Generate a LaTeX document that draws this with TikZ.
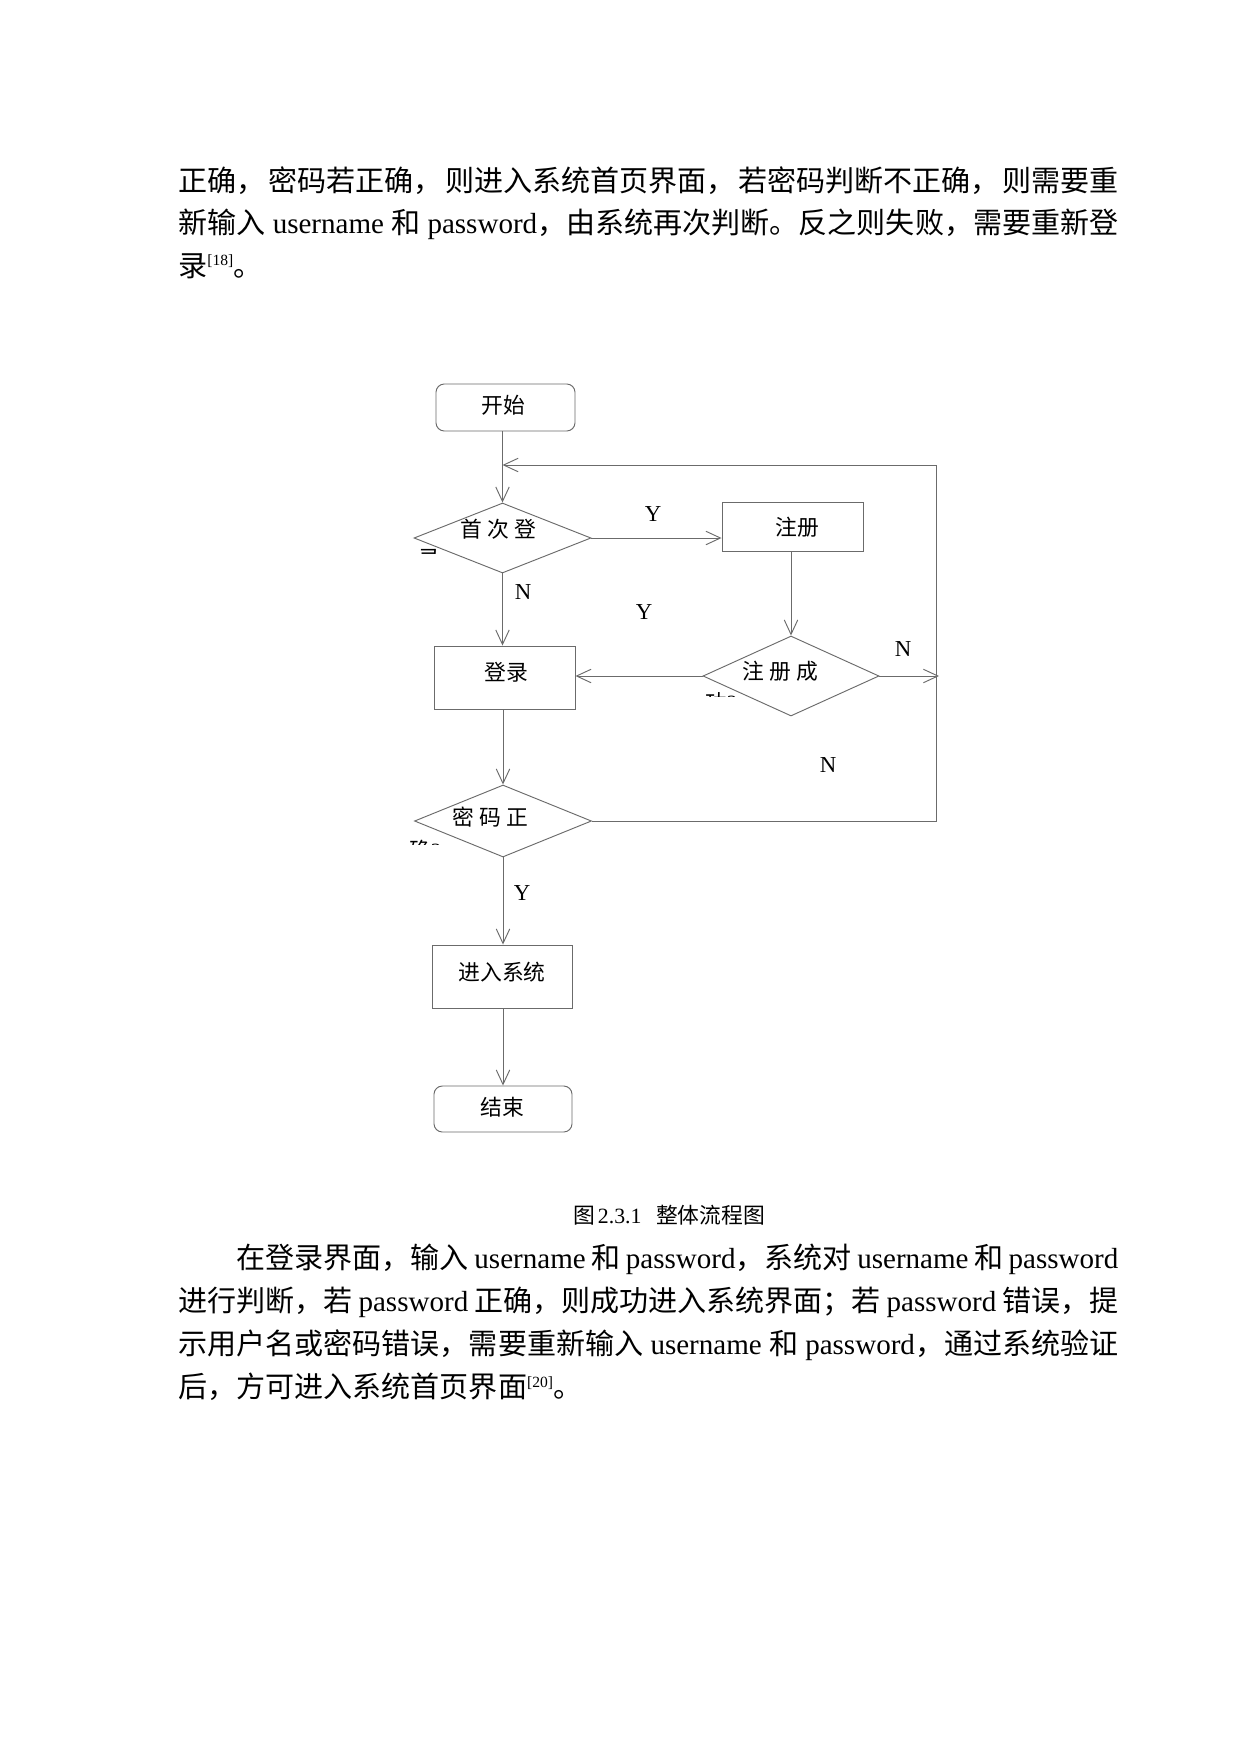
\documentclass[tikz,border=0pt]{standalone}
\usepackage{fontspec}
\setmainfont{Liberation Serif}
\newfontfamily\cjk{Noto Sans CJK SC}
\usetikzlibrary{arrows.meta,shapes.geometric}
\newcommand\bodyfont{\fontsize{14pt}{17pt}\selectfont}
\newcommand\chartfont{\fontsize{10.5pt}{12.6pt}\selectfont}
\newcommand\ynfont{\fontsize{11pt}{13pt}\selectfont}
\newcommand\supfont{\fontsize{7.5pt}{9pt}\selectfont}
\newcommand\refsup[1]{\raisebox{5pt}{\supfont[#1]}}
\def\pxu{0.48181pt}
\def\jg{\hskip 0pt plus 1pt}
\begin{document}
\begin{tikzpicture}[x=0.48181pt,y=-0.48181pt,
  ln/.style={draw=black!58, line width=0.45pt},
  arr/.style={ln, -{Straight Barb[length=7pt,width=6.5pt]}},
  box/.style={draw=black!58, line width=0.45pt, rectangle, inner sep=0pt},
  term/.style={box, rounded corners=4pt},
  dia/.style={draw=black!58, line width=0.45pt, diamond, inner sep=0pt},
  lbl/.style={font=\chartfont\cjk, inner sep=0pt},
  yn/.style={font=\ynfont, inner sep=0pt},
  bodyline/.style={anchor=base west, inner sep=0pt, font=\bodyfont},
  captxt/.style={anchor=base, inner sep=0pt, font=\chartfont},
]
\useasboundingbox (0,0) rectangle (1240,1754);
\fill[white] (0,0) rectangle (1240,1754);

% ---------- body text, top ----------
\node[bodyline] (top1) at (178,191) {\makebox[452.9pt][s]{\cjk 正确，\jg 密码若正确，\jg 则进入系统首页界面，\jg 若密码判断不正确，\jg 则需要重}};
\node[bodyline] (top2) at (178,233) {\makebox[452.9pt][s]{{\cjk 新输入} username {\cjk 和} password{\cjk ，由系统再次判断。反之则失败，需要重新登}}};
\node[bodyline] (top3) at (178,276) {{\cjk 录}\refsup{18}{\cjk 。}};

% ---------- flowchart ----------
\node[term, minimum width=139*\pxu, minimum height=47*\pxu] (start) at (505.5,407.5) {};
\node[lbl] (tstart) at (503,405) {开始};

\node[dia, minimum width=177*\pxu, minimum height=70*\pxu] (d1) at (502.5,538) {};
\node[lbl] (td1) at (498,529) {首\hspace{2.5pt}次\hspace{2.5pt}登};

\node[box, minimum width=141*\pxu, minimum height=49*\pxu] (reg) at (792.5,526.5) {};
\node[lbl] (treg) at (797,527) {注册};

\node[dia, minimum width=176*\pxu, minimum height=80*\pxu] (d2) at (791,676) {};
\node[lbl] (td2) at (780,671) {注\hspace{2.5pt}册\hspace{2.5pt}成};

\node[box, minimum width=141*\pxu, minimum height=63*\pxu] (login) at (504.5,677.5) {};
\node[lbl] (tlogin) at (506,672) {登录};

\node[dia, minimum width=177*\pxu, minimum height=72*\pxu] (d3) at (503,821) {};
\node[lbl] (td3) at (490,817) {密\hspace{2.5pt}码\hspace{2.5pt}正};

\node[box, minimum width=140*\pxu, minimum height=63*\pxu] (sys) at (502,976.5) {};
\node[lbl] (tsys) at (502,972) {进入系统};

\node[term, minimum width=138*\pxu, minimum height=46*\pxu] (stop) at (503,1109) {};
\node[lbl] (tstop) at (502,1107) {结束};

% clipped second lines of the decision texts
\begin{scope}
  \clip (412,548) rectangle (437,553.5);
  \node[lbl, anchor=north west] (frag1) at (418,549) {录{\rmfamily ?}};
\end{scope}
\begin{scope}
  \clip (700,690) rectangle (740,696);
  \node[lbl, anchor=north west] (frag2) at (705,692) {功{\rmfamily ?}};
\end{scope}
\begin{scope}
  \clip (404,838) rectangle (445,844);
  \node[lbl, anchor=north west] (frag3) at (409,840) {确{\rmfamily ?}};
\end{scope}

% coordinates for the loop back
\coordinate (fbCorner) at (936,465);
\coordinate (fbIn) at (502.5,465);
\coordinate (nEnd) at (939,676);

% connectors
\draw[arr] (start.south -| d1.north) -- (d1.north);
\draw[arr] (d1.east) -- (d1.east -| reg.west);
\draw[arr] (reg.south -| d2.north) -- (d2.north);
\draw[arr] (d2.west) -- (d2.west -| login.east);
\draw[arr] (d2.east) -- (nEnd);
\draw[arr] (d1.south) -- (d1.south |- login.north);
\draw[arr] (login.south -| d3.north) -- (d3.north);
\draw[arr] (d3.east) -| (fbCorner) -- (fbIn);
\draw[arr] (d3.south) -- (d3.south |- sys.north);
\draw[arr] (sys.south -| d3.south) -- (d3.south |- stop.north);

% Y / N labels
\node[yn] (y1) at (653,514) {Y};
\node[yn] (n1) at (523,592) {N};
\node[yn] (y2) at (644,612) {Y};
\node[yn] (n2) at (903,649) {N};
\node[yn] (n3) at (828,765) {N};
\node[yn] (y3) at (522,893) {Y};

% caption
\node[captxt] (cap) at (669,1223) {{\cjk 图}\hspace{1.5pt}2.3.1\hspace{7pt}{\cjk 整体流程图}};

% ---------- body text, bottom ----------
\node[bodyline] (bot1) at (178,1268.5) {\makebox[452.9pt][s]{\hspace*{28pt}{\cjk 在登录界面，输入} username {\cjk 和} password{\cjk ，系统对} username {\cjk 和} password}};
\node[bodyline] (bot2) at (178,1311.5) {\makebox[452.9pt][s]{{\cjk 进行判断，若} password {\cjk 正确，则成功进入系统界面；若} password {\cjk 错误，提}}};
\node[bodyline] (bot3) at (178,1354.5) {\makebox[452.9pt][s]{{\cjk 示用户名或密码错误，需要重新输入} username {\cjk 和} password{\cjk ，通过系统验证}}};
\node[bodyline] (bot4) at (178,1397.5) {{\cjk 后，方可进入系统首页界面}\refsup{20}{\cjk 。}};
\end{tikzpicture}
\end{document}
